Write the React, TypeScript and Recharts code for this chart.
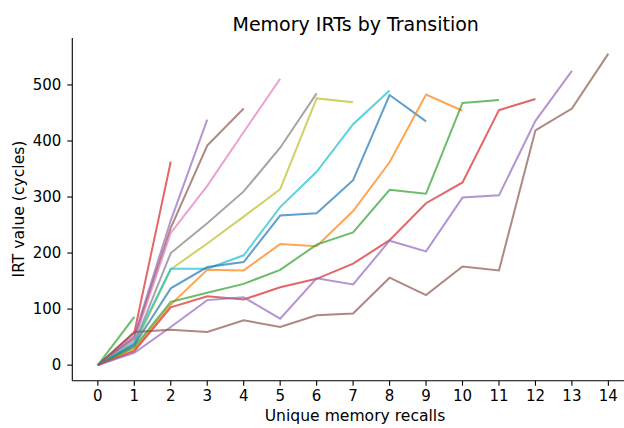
import React from "react";
import { LineChart, Line, XAxis, YAxis } from "recharts";

const recalls = [0, 1, 2, 3, 4, 5, 6, 7, 8, 9, 10, 11, 12, 13, 14];
const xTicks = [0, 1, 2, 3, 4, 5, 6, 7, 8, 9, 10, 11, 12, 13, 14];
const yTicks = [0, 100, 200, 300, 400, 500];

const trans1 = [0, 86];
const trans2 = [0, 58, 363];
const trans3 = [0, 52, 258, 438];
const trans4 = [0, 48, 245, 392, 458];
const trans5 = [0, 44, 236, 320, 416, 511];
const trans6 = [0, 38, 200, 253, 310, 388, 485];
const trans7 = [0, 34, 171, 217, 265, 314, 476, 469];
const trans8 = [0, 40, 172, 172, 196, 282, 345, 430, 490];
const trans9 = [0, 36, 137, 175, 184, 267, 271, 330, 482, 435];
const trans10 = [0, 28, 108, 170, 169, 216, 212, 275, 362, 483, 454];
const trans11 = [0, 32, 113, 129, 145, 170, 215, 237, 313, 306, 468, 473];
const trans12 = [0, 25, 103, 123, 117, 139, 154, 181, 223, 289, 326, 455, 475];
const trans13 = [0, 22, 68, 116, 121, 83, 155, 144, 222, 203, 299, 303, 436, 525];
const trans14 = [0, 59, 63, 59, 80, 68, 89, 92, 156, 125, 176, 169, 419, 458, 556];

const seriesList = [trans1, trans2, trans3, trans4, trans5, trans6, trans7, trans8, trans9, trans10, trans11, trans12, trans13, trans14];
const colors = ["#2ca02c", "#d62728", "#9467bd", "#8c564b", "#e377c2", "#7f7f7f", "#bcbd22", "#17becf", "#1f77b4", "#ff7f0e", "#2ca02c", "#d62728", "#9467bd", "#8c564b"];

const data = recalls.map((x, i) => {
  const row: Record<string, number | undefined> = { x };
  seriesList.forEach((s, k) => {
    row["s" + k] = i < s.length ? s[i] : undefined;
  });
  return row;
});

const font = "'DejaVu Sans', sans-serif";

export default function App() {
  return (
    <div style={{ position: "absolute", left: 0, top: 0, width: 624, height: 428, overflow: "hidden", background: "#fff", fontFamily: font }}>
      <LineChart
        width={660}
        height={428}
        data={data}
        margin={{ top: 38, right: 26.1, bottom: 17.3, left: 0 }}
      >
        <XAxis
          dataKey="x"
          type="number"
          domain={[-0.7, 14.7]}
          ticks={xTicks}
          interval={0}
          allowDataOverflow
          height={30}
          tickSize={5}
          tickMargin={5}
          axisLine={{ stroke: "#000", strokeWidth: 1.1 }}
          tickLine={{ stroke: "#000", strokeWidth: 1.1 }}
          tick={{ fill: "#000", fontSize: 15, fontFamily: font }}
        />
        <XAxis
          xAxisId="top"
          orientation="top"
          dataKey="x"
          type="number"
          domain={[-0.7, 14.7]}
          height={0}
          tick={false}
          tickLine={false}
          axisLine={{ stroke: "#000", strokeWidth: 1.1 }}
        />
        <YAxis
          type="number"
          domain={[-27.8, 583.8]}
          ticks={yTicks}
          interval={0}
          allowDataOverflow
          width={72.3}
          tickSize={5}
          tickMargin={6}
          axisLine={{ stroke: "#000", strokeWidth: 1.1 }}
          tickLine={{ stroke: "#000", strokeWidth: 1.1 }}
          tick={{ fill: "#000", fontSize: 15, fontFamily: font }}
        />
        {seriesList.map((_, k) => (
          <Line
            key={k}
            dataKey={"s" + k}
            type="linear"
            stroke={colors[k]}
            strokeOpacity={0.7}
            strokeWidth={2}
            dot={false}
            activeDot={false}
            isAnimationActive={false}
            connectNulls={false}
          />
        ))}
      </LineChart>
      <div style={{ position: "absolute", left: 355.7, top: 13.4, transform: "translateX(-50%)", fontSize: 19, lineHeight: "normal", whiteSpace: "nowrap", color: "#000" }}>
        Memory IRTs by Transition
      </div>
      <div style={{ position: "absolute", left: 355, top: 416, transform: "translate(-50%,-50%)", fontSize: 15.6, whiteSpace: "nowrap", color: "#000" }}>
        Unique memory recalls
      </div>
      <div style={{ position: "absolute", left: 18.5, top: 209, transform: "translate(-50%,-50%) rotate(-90deg)", fontSize: 15.6, whiteSpace: "nowrap", color: "#000" }}>
        IRT value (cycles)
      </div>
    </div>
  );
}
